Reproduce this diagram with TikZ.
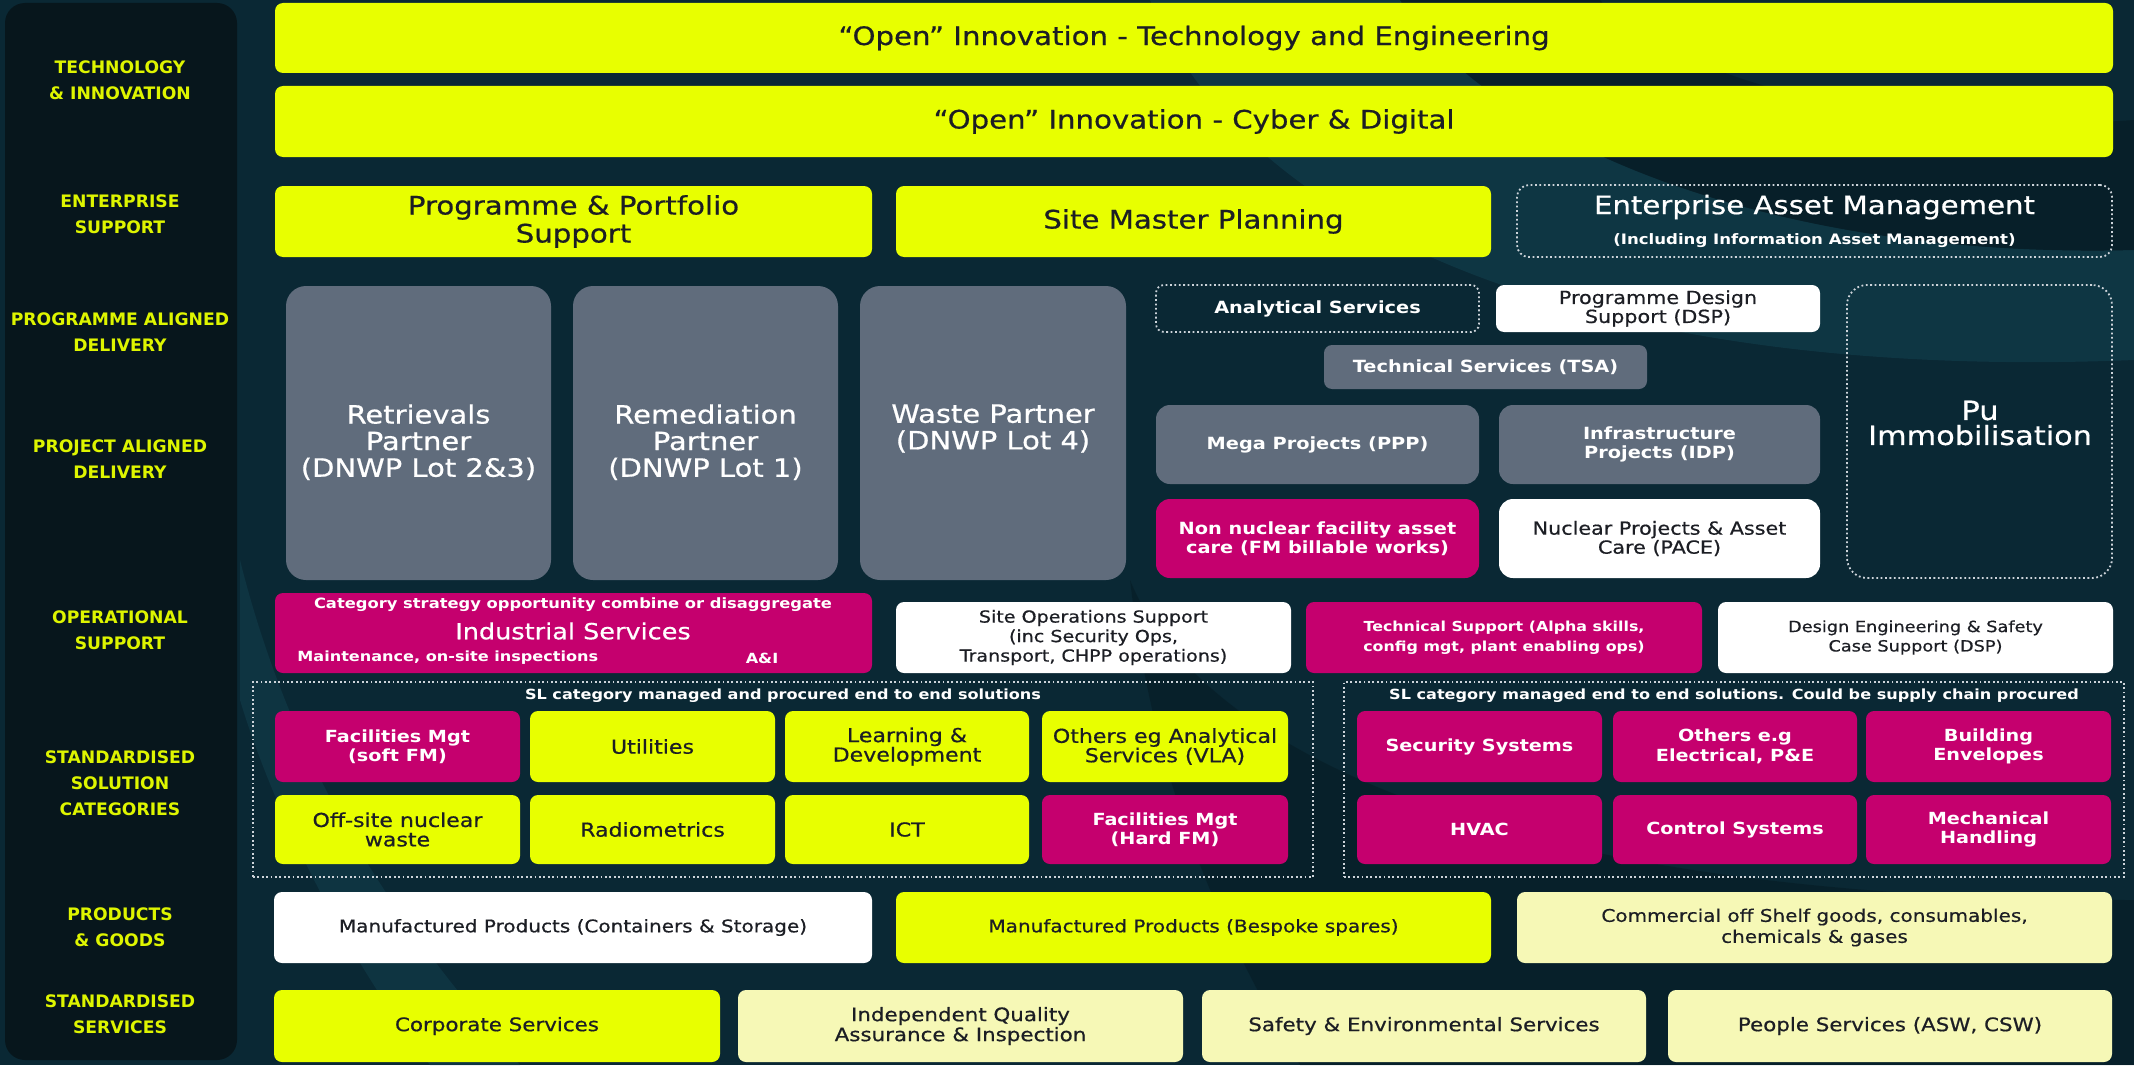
\documentclass[tikz,border=0pt]{standalone}
\usepackage{fontspec}
\setmainfont{DejaVu Sans}[FakeStretch=1.15, UprightFeatures={FakeBold=0.6}]
\newfontfamily\lblfont{DejaVu Sans}

\definecolor{cyel}{RGB}{232,255,0}
\definecolor{cpink}{RGB}{197,0,110}
\definecolor{cgrey}{RGB}{96,108,124}
\definecolor{cpale}{RGB}{246,248,182}
\definecolor{cink}{RGB}{28,30,36}
\definecolor{cbg}{RGB}{10,40,52}
\definecolor{cbglite}{RGB}{17,60,74}
\definecolor{cbgdark}{RGB}{6,26,34}
\definecolor{cpanel}{RGB}{7,22,28}
\definecolor{clab}{RGB}{222,245,0}
\definecolor{cdot}{RGB}{205,212,218}

% box from (x1,y1) to (x2,y2), in pixel units of the picture
\newcommand\cellbox[7]{\node[#2, minimum width={(#5-#3)*0.5pt}, minimum height={(#6-#4)*0.5pt}] (#1) at ({(#3+#5)/2},{(#4+#6)/2}) {#7};}

\begin{document}
\begin{tikzpicture}[x=0.5pt, y=-0.5pt,
    blk/.style={rounded corners=4pt, inner sep=0pt, outer sep=0pt, align=center},
    yel/.style={blk, fill=cyel, text=cink},
    pale/.style={blk, fill=cpale, text=cink},
    wht/.style={blk, fill=white, text=cink},
    gry/.style={blk, fill=cgrey, text=white},
    pnk/.style={blk, fill=cpink, text=white},
    dotbox/.style={blk, draw=cdot, line width=0.9pt, dash pattern=on 0.9pt off 1.3pt, text=white},
    lbl/.style={text=clab, align=center, inner sep=0pt, font=\lblfont\bfseries\fontsize{8.6}{13}\selectfont},
    fbig/.style={font=\fontsize{12.7}{14}\selectfont},
    fgry/.style={font=\fontsize{12.6}{13.3}\selectfont},
    fbold/.style={font=\bfseries\fontsize{8.4}{9.7}\selectfont},
    freg/.style={font=\fontsize{9}{9.5}\selectfont},
    fops/.style={font=\fontsize{8.3}{9.75}\selectfont},
    fopb/.style={font=\bfseries\fontsize{6.9}{10}\selectfont},
    fcell/.style={font=\fontsize{9.6}{9.7}\selectfont},
    fcpk/.style={font=\bfseries\fontsize{8.35}{9.7}\selectfont},
    fprod/.style={font=\fontsize{8.7}{10.5}\selectfont},
    fserv/.style={font=\fontsize{9.3}{10}\selectfont},
    fsl/.style={text=white, inner sep=0pt, font=\bfseries\fontsize{7}{8}\selectfont}]

  \useasboundingbox (0,0) rectangle (2134,1065);

  % background and swooshes
  \fill[cbg] (0,0) rectangle (2134,1065);
  \fill[cbglite, opacity=0.7] (1150,0) .. controls (1260,260) and (1650,380) .. (2134,360)
    -- (2134,250) .. controls (1750,260) and (1480,130) .. (1400,0) -- cycle;
  \fill[cbgdark, opacity=0.6] (1400,0) .. controls (1480,130) and (1750,260) .. (2134,250)
    -- (2134,120) .. controls (1850,140) and (1650,60) .. (1600,0) -- cycle;
  \fill[cbglite, opacity=0.6] (240,560) .. controls (300,800) and (420,950) .. (520,1065)
    -- (430,1065) .. controls (340,950) and (270,800) .. (240,700) -- cycle;
  \fill[cbgdark, opacity=0.5] (1130,580) .. controls (1200,750) and (1500,900) .. (2134,900)
    -- (2134,1065) -- (1300,1065) .. controls (1200,900) and (1150,750) .. (1130,580) -- cycle;
  \fill[cpanel, rounded corners=10pt] (5,3) rectangle (237,1060);

  % row labels
  \node[lbl] (ltech) at (120,80) {TECHNOLOGY\\\& INNOVATION};
  \node[lbl] (lent) at (120,214) {ENTERPRISE\\SUPPORT};
  \node[lbl] (lprog) at (120,332) {PROGRAMME ALIGNED\\DELIVERY};
  \node[lbl] (lproj) at (120,459) {PROJECT ALIGNED\\DELIVERY};
  \node[lbl] (lops) at (120,630) {OPERATIONAL\\SUPPORT};
  \node[lbl] (lstd) at (120,783) {STANDARDISED\\SOLUTION\\CATEGORIES};
  \node[lbl] (lprod) at (120,927) {PRODUCTS\\\& GOODS};
  \node[lbl] (lserv) at (120,1014) {STANDARDISED\\SERVICES};

  % technology & innovation, enterprise support
  \cellbox{tech}{yel, fbig}{275}{3}{2113}{73}{“Open” Innovation - Technology and Engineering}
  \cellbox{cyber}{yel, fbig}{275}{86}{2113}{157}{“Open” Innovation - Cyber \& Digital}
  \cellbox{pps}{yel, fbig}{275}{186}{872}{257}{Programme \& Portfolio\\Support}
  \cellbox{smp}{yel, fbig}{896}{186}{1491}{257}{Site Master Planning}
  \cellbox{eam}{dotbox, fbig, rounded corners=6pt}{1517}{185}{2112}{257}{Enterprise Asset Management\\[1pt]{\bfseries\fontsize{7.2}{8}\selectfont(Including Information Asset Management)}}

  % programme / project aligned delivery
  \cellbox{retr}{gry, rounded corners=10pt}{286}{286}{551}{580}{}
  \cellbox{reme}{gry, rounded corners=10pt}{573}{286}{838}{580}{}
  \cellbox{wast}{gry, rounded corners=10pt}{860}{286}{1126}{580}{}
  \node[fgry, text=white, align=center, anchor=north, inner sep=0pt] (retr-t) at (retr.center |- 0,404) {Retrievals\\Partner\\(DNWP Lot 2\&3)};
  \node[fgry, text=white, align=center, anchor=north, inner sep=0pt] (reme-t) at (reme.center |- 0,404) {Remediation\\Partner\\(DNWP Lot 1)};
  \node[fgry, text=white, align=center, anchor=north, inner sep=0pt] (wast-t) at (wast.center |- 0,404) {Waste Partner\\(DNWP Lot 4)};

  \cellbox{anal}{dotbox, fbold}{1156}{285}{1479}{332}{Analytical Services}
  \cellbox{pdsp}{wht, freg}{1496}{285}{1820}{332}{Programme Design\\Support (DSP)}
  \cellbox{tsa}{gry, fbold}{1324}{345}{1647}{389}{Technical Services (TSA)}
  \cellbox{mega}{gry, fbold, rounded corners=7pt}{1156}{405}{1479}{484}{Mega Projects (PPP)}
  \cellbox{infra}{gry, fbold, rounded corners=7pt}{1499}{405}{1820}{484}{Infrastructure\\Projects (IDP)}
  \cellbox{nonn}{pnk, fbold, rounded corners=7pt}{1156}{499}{1479}{578}{Non nuclear facility asset\\care (FM billable works)}
  \cellbox{pace}{wht, freg, rounded corners=7pt}{1499}{499}{1820}{578}{Nuclear Projects \& Asset\\Care (PACE)}
  \cellbox{pu}{dotbox, rounded corners=10pt}{1847}{285}{2112}{578}{}
  \node[text=white, align=center, inner sep=0pt, font=\fontsize{13.2}{12.5}\selectfont] (pu-t) at (1980,423) {Pu\\Immobilisation};

  % operational support
  \cellbox{ind}{pnk}{275}{593}{872}{673}{}
  \node[text=white, inner sep=0pt, font=\bfseries\fontsize{7.1}{8}\selectfont] (ind-c) at (573,605) {Category strategy opportunity combine or disaggregate};
  \node[text=white, inner sep=0pt, font=\fontsize{11.1}{12}\selectfont] (ind-t) at (573,631) {Industrial Services};
  \node[text=white, inner sep=0pt, anchor=west, font=\bfseries\fontsize{7}{8}\selectfont] (ind-m) at (297,658) {Maintenance, on-site inspections};
  \node[text=white, inner sep=0pt, font=\bfseries\fontsize{7}{8}\selectfont] (ind-a) at (762,658) {A\&I};
  \cellbox{sops}{wht, fops}{896}{602}{1291}{673}{Site Operations Support\\(inc Security Ops,\\Transport, CHPP operations)}
  \cellbox{tsup}{pnk, fopb}{1306}{602}{1702}{673}{Technical Support (Alpha skills,\\config mgt, plant enabling ops)}
  \cellbox{desg}{wht, font=\fontsize{7.7}{9.7}\selectfont}{1718}{602}{2113}{673}{Design Engineering \& Safety\\Case Support (DSP)}

  % standardised solution categories
  \cellbox{slA}{dotbox, rounded corners=0pt}{253}{682}{1313}{877}{}
  \cellbox{slB}{dotbox, rounded corners=0pt}{1344}{682}{2124}{877}{}
  \node[fsl] (slA-t) at (783,696) {SL category managed and procured end to end solutions};
  \node[fsl] (slB-t) at (1734,696) {SL category managed end to end solutions. Could be supply chain procured};

  \cellbox{sfm}{pnk, fcpk}{275}{711}{520}{782}{Facilities Mgt\\(soft FM)}
  \cellbox{util}{yel, fcell}{530}{711}{775}{782}{Utilities}
  \cellbox{lnd}{yel, fcell}{785}{711}{1029}{782}{Learning \&\\Development}
  \cellbox{vla}{yel, fcell}{1042}{711}{1288}{782}{Others eg Analytical\\Services (VLA)}
  \cellbox{osnw}{yel, fcell}{275}{795}{520}{864}{Off-site nuclear\\waste}
  \cellbox{radm}{yel, fcell}{530}{795}{775}{864}{Radiometrics}
  \cellbox{ict}{yel, fcell}{785}{795}{1029}{864}{ICT}
  \cellbox{hfm}{pnk, fcpk}{1042}{795}{1288}{864}{Facilities Mgt\\(Hard FM)}

  \cellbox{secs}{pnk, fcpk}{1357}{711}{1602}{782}{Security Systems}
  \cellbox{elec}{pnk, fcpk}{1613}{711}{1857}{782}{Others e.g\\Electrical, P\&E}
  \cellbox{benv}{pnk, fcpk}{1866}{711}{2111}{782}{Building\\Envelopes}
  \cellbox{hvac}{pnk, fcpk}{1357}{795}{1602}{864}{HVAC}
  \cellbox{ctrl}{pnk, fcpk}{1613}{795}{1857}{864}{Control Systems}
  \cellbox{mech}{pnk, fcpk}{1866}{795}{2111}{864}{Mechanical\\Handling}

  % products & goods
  \cellbox{mpcs}{wht, fprod}{274}{892}{872}{963}{Manufactured Products (Containers \& Storage)}
  \cellbox{mpbs}{yel, fprod}{896}{892}{1491}{963}{Manufactured Products (Bespoke spares)}
  \cellbox{cots}{pale, fprod}{1517}{892}{2112}{963}{Commercial off Shelf goods, consumables,\\chemicals \& gases}

  % standardised services
  \cellbox{corp}{yel, fserv}{274}{990}{720}{1062}{Corporate Services}
  \cellbox{iqai}{pale, fserv}{738}{990}{1183}{1062}{Independent Quality\\Assurance \& Inspection}
  \cellbox{sesv}{pale, fserv}{1202}{990}{1646}{1062}{Safety \& Environmental Services}
  \cellbox{ppl}{pale, fserv}{1668}{990}{2112}{1062}{People Services (ASW, CSW)}
\end{tikzpicture}
\end{document}
